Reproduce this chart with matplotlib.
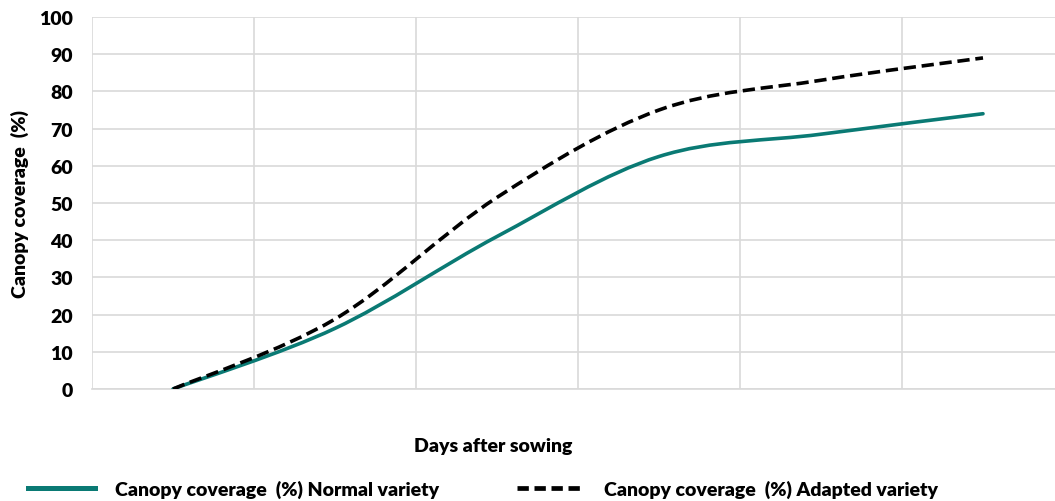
import matplotlib
matplotlib.use("Agg")
import matplotlib.pyplot as plt
from matplotlib.path import Path
from matplotlib.patches import PathPatch
from matplotlib.lines import Line2D
import numpy as np

plt.rcParams['font.family'] = ['Lato', 'DejaVu Sans']
WEIGHT = 'heavy'
plt.rcParams['font.weight'] = WEIGHT

categories = ["1", "2", "3", "4", "5", "6"]
normal_variety = [0, 16.3, 41, 62.5, 68.5, 74]
adapted_variety = [0, 18.8, 51.5, 75, 83, 89]
series_labels = ["Canopy coverage  (%) Normal variety",
                 "Canopy coverage  (%) Adapted variety"]
y_ticks = [0, 10, 20, 30, 40, 50, 60, 70, 80, 90, 100]

TEAL = "#0A7A74"
GRID = "#D9D9D9"
FS = 14

fig = plt.figure(figsize=(10.55, 5.02), dpi=100)
ax = fig.add_axes([92/1055, 1-390/502, (1064-92)/1055, (390-18)/502])


def smooth_path(xs, ys):
    pts = np.column_stack([xs, ys]).astype(float)
    n = len(pts)
    verts = [pts[0]]
    codes = [Path.MOVETO]
    for i in range(n - 1):
        p0 = pts[max(i - 1, 0)]
        p1 = pts[i]
        p2 = pts[i + 1]
        p3 = pts[min(i + 2, n - 1)]
        c1 = p1 + (p2 - p0) / 6.0
        c2 = p2 - (p3 - p1) / 6.0
        verts += [c1, c2, p2]
        codes += [Path.CURVE4] * 3
    return Path(verts, codes)


x = np.arange(len(categories))
lw = 2.6
dash = (3.4, 1.6)
ax.add_patch(PathPatch(smooth_path(x, normal_variety), fill=False,
                       edgecolor=TEAL, linewidth=lw, capstyle='round', zorder=3))
ax.add_patch(PathPatch(smooth_path(x, adapted_variety), fill=False,
                       edgecolor='black', linewidth=lw, linestyle=(0, dash),
                       capstyle='butt', zorder=4))

ax.set_xlim(-0.5, len(categories) - 0.5)
ax.set_ylim(0, 100)
ax.set_yticks(y_ticks)
ax.set_xticks(np.arange(-0.5, len(categories), 1.0))
ax.set_xticklabels([])
ax.tick_params(length=0, labelsize=FS, pad=14)
for lab in ax.get_yticklabels():
    lab.set_fontweight(WEIGHT)
ax.grid(True, color=GRID, linewidth=1.2)
ax.set_axisbelow(True)
for s in ['top', 'right']:
    ax.spines[s].set_visible(False)
ax.spines['left'].set_visible(False)
ax.spines['bottom'].set_color(GRID)
ax.spines['bottom'].set_linewidth(1.2)

fig.text(20/1055, 1-204/502, "Canopy coverage  (%)", rotation=90,
         ha='center', va='center', fontsize=FS, fontweight=WEIGHT)
fig.text(493/1055, 1-447/502, "Days after sowing", ha='center', va='center',
         fontsize=FS, fontweight=WEIGHT)

handles = [Line2D([], [], color=TEAL, linewidth=3.6),
           Line2D([], [], color='black', linewidth=3.4, linestyle=(0, (2.4, 1.2)))]
leg = fig.legend(handles, series_labels, loc='center left',
                 bbox_to_anchor=(28/1055, 1-490/502), ncol=2, frameon=False,
                 fontsize=FS, handlelength=3.45, handletextpad=1.03,
                 columnspacing=4.0, borderaxespad=0, borderpad=0)
for t in leg.get_texts():
    t.set_fontweight(WEIGHT)

fig.savefig("out.png", dpi=100)
